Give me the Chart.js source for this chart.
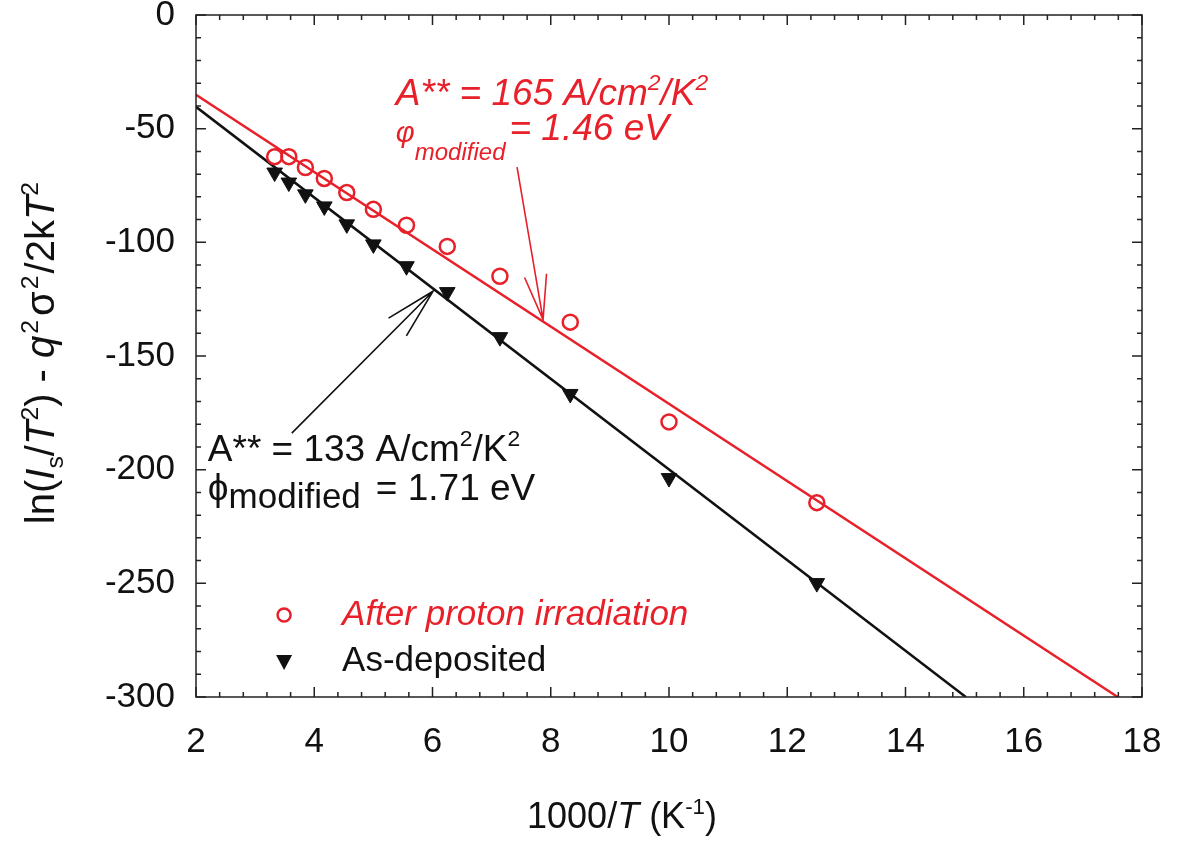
<!DOCTYPE html>
<html>
<head>
<meta charset="utf-8">
<script src="https://cdn.jsdelivr.net/npm/chart.js@4.4.1/dist/chart.umd.min.js"></script>
<style>
  html, body { margin: 0; padding: 0; background: #fff; }
  #wrap { width: 1180px; height: 843px; }
</style>
</head>
<body>
<div id="wrap"><canvas id="myChart" width="1180" height="843"></canvas></div>
<script>
// data: x = 1000/T (T = 300 ... 80 K)
const invT = [3.33, 3.57, 3.85, 4.17, 4.55, 5.0, 5.56, 6.25, 7.14, 8.33, 10.0, 12.5];
const irradiated = [-62.3, -62.3, -67.1, -71.9, -78.1, -85.5, -92.5, -101.8, -114.9, -135.1, -179.0, -214.5];
const asDeposited = [-69.3, -73.7, -78.9, -84.2, -92.1, -100.9, -110.5, -121.9, -141.7, -166.7, -203.7, -249.9];

// fitted lines (end points)
const fitIrrX = [2, 17.59];
const fitIrrY = [-35.1, -300];
const fitDepX = [2, 15.02];
const fitDepY = [-40.4, -300];

const xTicks = [2, 4, 6, 8, 10, 12, 14, 16, 18];
const yTicks = [0, -50, -100, -150, -200, -250, -300];

const RED = "#e8202a";
const BLACK = "#111111";
const FONT = "'Liberation Sans', Arial, Helvetica, sans-serif";

const toPts = (xs, ys) => xs.map((x, i) => ({ x: x, y: ys[i] }));

// draws a run of text pieces (italic / sub / sup), returns width
function richText(ctx, segs, x, y, size, color, measureOnly) {
  let cx = x;
  for (const s of segs) {
    const fs = s.size ? s.size : (s.sub || s.sup ? size * 0.62 : size);
    ctx.font = (s.it ? "italic " : "") + fs + "px " + FONT;
    let dy = 0;
    if (s.sub) dy = s.dy !== undefined ? s.dy : size * 0.22;
    if (s.sup) dy = s.dy !== undefined ? s.dy : -size * 0.4;
    if (!measureOnly) {
      ctx.fillStyle = s.color || color;
      ctx.fillText(s.t, cx, y + dy);
    }
    cx += ctx.measureText(s.t).width + (s.gap || 0);
  }
  return cx - x;
}

function arrow(ctx, x1, y1, x2, y2, color, headLen) {
  const ang = Math.atan2(y2 - y1, x2 - x1);
  const a = 14 * Math.PI / 180;
  ctx.strokeStyle = color;
  ctx.lineWidth = 1.6;
  ctx.beginPath();
  ctx.moveTo(x1, y1);
  ctx.lineTo(x2, y2);
  ctx.moveTo(x2 - headLen * Math.cos(ang - a), y2 - headLen * Math.sin(ang - a));
  ctx.lineTo(x2, y2);
  ctx.lineTo(x2 - headLen * Math.cos(ang + a), y2 - headLen * Math.sin(ang + a));
  ctx.stroke();
}

const framePlugin = {
  id: "frame",
  afterDatasetsDraw(chart) {
    const ctx = chart.ctx;
    const { left, right, top, bottom } = chart.chartArea;
    const xs = chart.scales.x, ys = chart.scales.y;
    ctx.save();
    ctx.strokeStyle = "#222";
    ctx.lineWidth = 1.5;
    ctx.strokeRect(left, top, right - left, bottom - top);
    ctx.beginPath();
    for (let v = 2; v <= 18.001; v += 0.4) {
      const major = Math.abs(v / 2 - Math.round(v / 2)) < 0.01;
      const len = major ? 10 : 5;
      const px = xs.getPixelForValue(v);
      ctx.moveTo(px, bottom); ctx.lineTo(px, bottom - len);
      ctx.moveTo(px, top); ctx.lineTo(px, top + len);
    }
    for (let v = -300; v <= 0.001; v += 10) {
      const major = Math.abs(v % 50) < 0.01;
      const len = major ? 10 : 5;
      const py = ys.getPixelForValue(v);
      ctx.moveTo(left, py); ctx.lineTo(left + len, py);
      ctx.moveTo(right, py); ctx.lineTo(right - len, py);
    }
    ctx.stroke();

    const X = (v) => xs.getPixelForValue(v);
    const Y = (v) => ys.getPixelForValue(v);
    ctx.textBaseline = "alphabetic";
    ctx.textAlign = "left";

    // red annotation
    richText(ctx, [
      { t: "A** = 165 A/cm", it: true },
      { t: "2", it: true, sup: true },
      { t: "/K", it: true },
      { t: "2", it: true, sup: true }
    ], X(5.38), Y(-39.6), 37, RED);
    richText(ctx, [
      { t: "\u03c6", it: true, size: 29, sup: true, dy: 2 },
      { t: "modified", it: true, sub: true, size: 24, dy: 20, gap: 4 },
      { t: "= 1.46 eV", it: true }
    ], X(5.38), Y(-55.0), 37, RED);
    arrow(ctx, X(7.43), Y(-66.9), X(7.87), Y(-134.0), RED, 46);

    // black annotation
    richText(ctx, [
      { t: "A** = 133 A/cm" },
      { t: "2", sup: true },
      { t: "/K" },
      { t: "2", sup: true }
    ], X(2.2), Y(-196.2), 37, BLACK);
    richText(ctx, [
      { t: "\u03d5", size: 37 },
      { t: "modified", sub: true, size: 35, dy: 8, gap: 15 },
      { t: "= 1.71 eV" }
    ], X(2.2), Y(-213.4), 37, BLACK);
    arrow(ctx, X(3.62), Y(-183.9), X(6.01), Y(-121.5), BLACK, 52);

    // legend
    ctx.lineWidth = 2.5;
    ctx.strokeStyle = RED;
    ctx.beginPath();
    ctx.arc(X(3.49), Y(-263.9), 6.5, 0, Math.PI * 2);
    ctx.stroke();
    richText(ctx, [{ t: "After proton irradiation", it: true }], X(4.47), Y(-268.3), 35, RED);
    const tx = X(3.49), ty = Y(-284.6);
    ctx.fillStyle = BLACK;
    ctx.beginPath();
    ctx.moveTo(tx - 8, ty - 7);
    ctx.lineTo(tx + 8, ty - 7);
    ctx.lineTo(tx, ty + 8);
    ctx.closePath();
    ctx.fill();
    richText(ctx, [{ t: "As-deposited" }], X(4.47), Y(-288.6), 35, BLACK);

    // x title
    const xt = [
      { t: "1000/" },
      { t: "T", it: true },
      { t: " (K" },
      { t: "-1", sup: true },
      { t: ")" }
    ];
    const xw = richText(ctx, xt, 0, 0, 36, BLACK, true);
    richText(ctx, xt, 622 - xw / 2, 828, 36, BLACK);

    // y title
    const yt = [
      { t: "ln(" },
      { t: "I", it: true },
      { t: "s", sub: true },
      { t: "/" },
      { t: "T", it: true },
      { t: "2", sup: true },
      { t: ") - " },
      { t: "q", it: true, gap: 2 },
      { t: "2", sup: true, gap: 4 },
      { t: "\u03c3", gap: 2 },
      { t: "2", sup: true, gap: 2 },
      { t: "/2k" },
      { t: "T", it: true },
      { t: "2", sup: true }
    ];
    const yw = richText(ctx, yt, 0, 0, 40, BLACK, true);
    ctx.translate(54, 353);
    ctx.rotate(-Math.PI / 2);
    richText(ctx, yt, -yw / 2, 0, 40, BLACK);
    ctx.restore();
  }
};

let ctx1 = document.getElementById("myChart").getContext("2d");
let myChart = new Chart(ctx1, {
  type: "scatter",
  data: {
    datasets: [
      {
        label: "fit irradiated",
        type: "line",
        data: toPts(fitIrrX, fitIrrY),
        borderColor: RED,
        borderWidth: 2.5,
        pointRadius: 0,
        fill: false,
        order: 3,
      },
      {
        label: "fit as-deposited",
        type: "line",
        data: toPts(fitDepX, fitDepY),
        borderColor: BLACK,
        borderWidth: 2.5,
        pointRadius: 0,
        fill: false,
        order: 3,
      },
      {
        label: "After proton irradiation",
        data: toPts(invT, irradiated),
        pointStyle: "circle",
        pointRadius: 7.5,
        borderColor: RED,
        borderWidth: 2.5,
        backgroundColor: "rgba(255,255,255,0)",
        order: 1,
      },
      {
        label: "As-deposited",
        data: toPts(invT, asDeposited),
        pointStyle: "triangle",
        rotation: 180,
        pointRadius: 9,
        borderColor: BLACK,
        borderWidth: 1,
        backgroundColor: BLACK,
        order: 1,
      },
    ],
  },
  options: {
    responsive: false,
    animation: false,
    devicePixelRatio: 1,
    layout: { padding: { left: 0, top: 15, right: 38, bottom: 0 } },
    plugins: { legend: { display: false }, tooltip: { enabled: false } },
    scales: {
      x: {
        type: "linear",
        min: 2,
        max: 18,
        afterFit: (scale) => {
          scale.height = 843 - 697;
          scale.paddingLeft = 0;
          scale.paddingRight = 0;
        },
        afterBuildTicks: (scale) => { scale.ticks = xTicks.map((v) => ({ value: v })); },
        grid: { display: false, drawTicks: false },
        border: { display: false },
        ticks: { padding: 24, color: BLACK, font: { size: 35, family: FONT } },
      },
      y: {
        type: "linear",
        min: -300,
        max: 0,
        afterFit: (scale) => {
          scale.width = 196;
          scale.paddingTop = 0;
          scale.paddingBottom = 0;
        },
        afterBuildTicks: (scale) => { scale.ticks = yTicks.map((v) => ({ value: v })); },
        grid: { display: false, drawTicks: false },
        border: { display: false },
        ticks: { padding: 21, color: BLACK, font: { size: 35, family: FONT } },
      },
    },
  },
  plugins: [framePlugin],
});
</script>
</body>
</html>
